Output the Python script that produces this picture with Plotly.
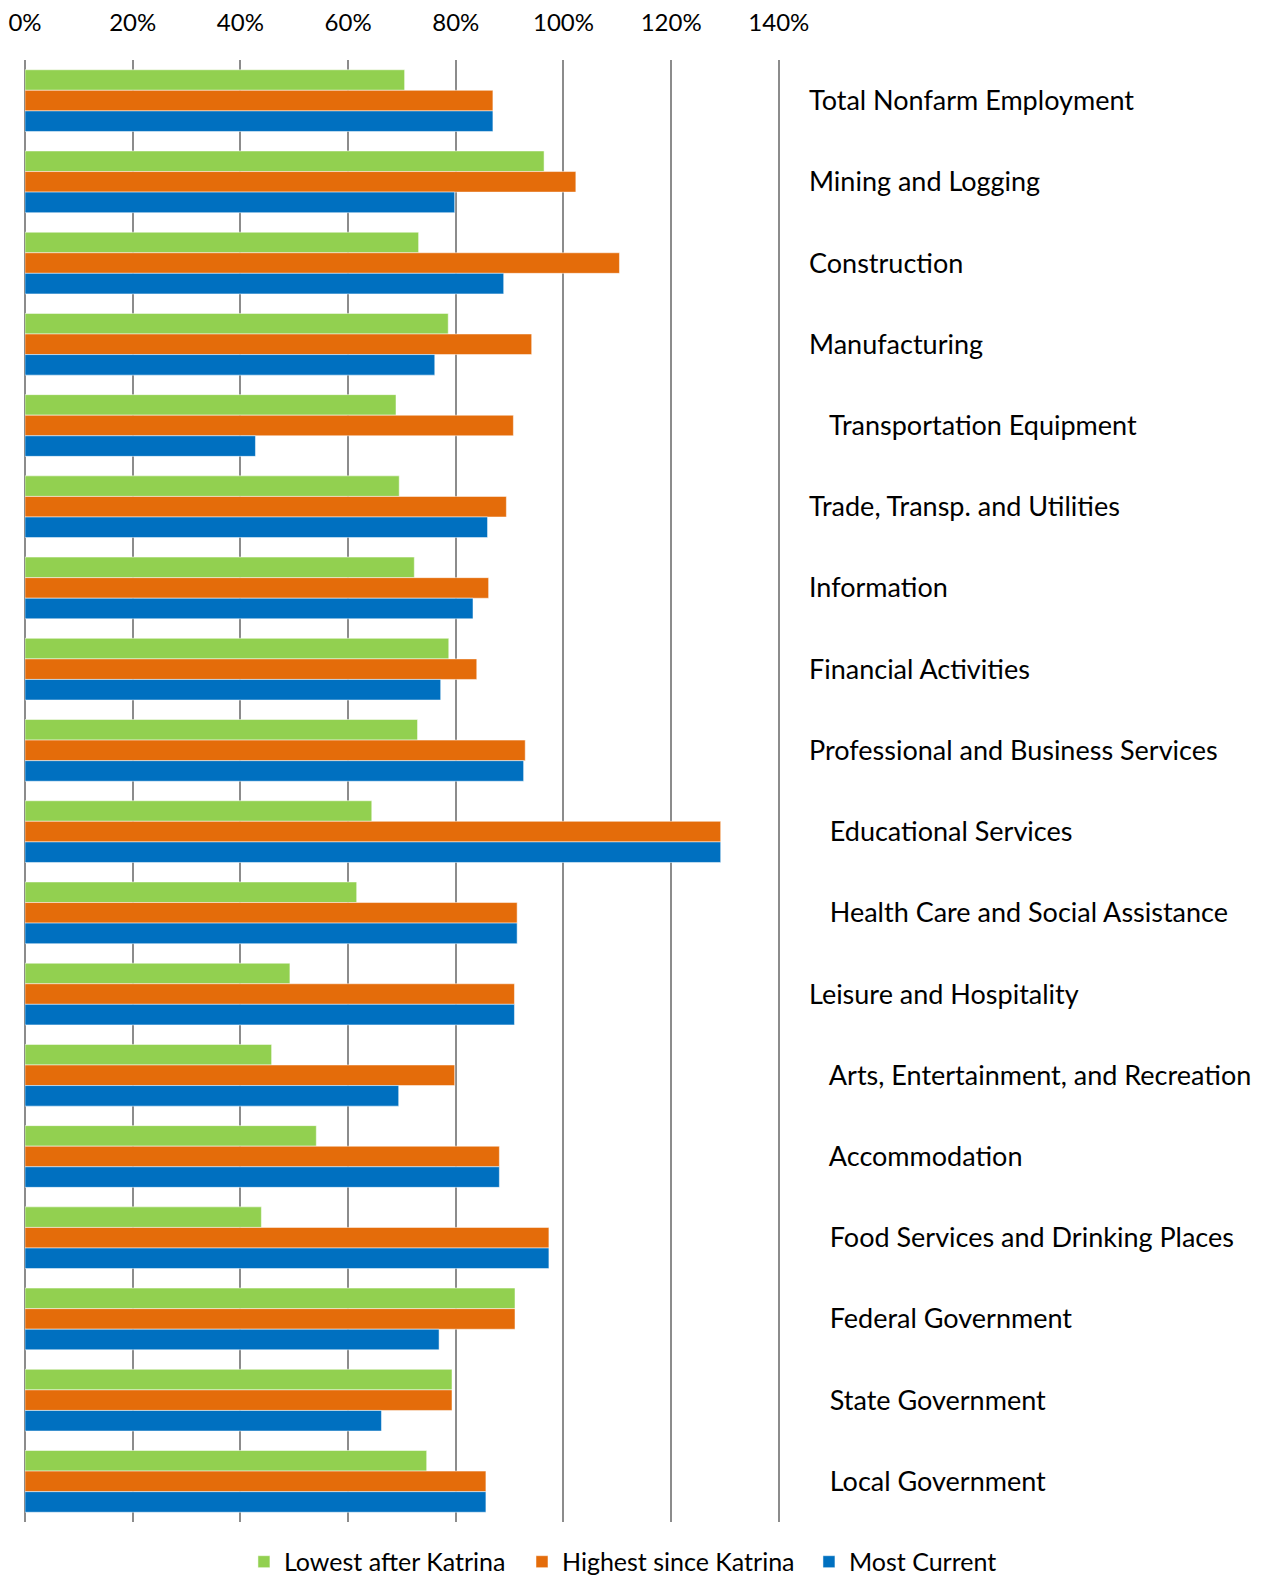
import plotly.graph_objects as go

categories = [
    "Total Nonfarm Employment", "Mining and Logging", "Construction", "Manufacturing",
    "Transportation Equipment", "Trade, Transp. and Utilities", "Information",
    "Financial Activities", "Professional and Business Services", "Educational Services",
    "Health Care and Social Assistance", "Leisure and Hospitality",
    "Arts, Entertainment, and Recreation", "Accommodation",
    "Food Services and Drinking Places", "Federal Government", "State Government",
    "Local Government",
]
indented = [
    "Transportation Equipment", "Educational Services", "Health Care and Social Assistance",
    "Arts, Entertainment, and Recreation", "Accommodation", "Food Services and Drinking Places",
    "Federal Government", "State Government", "Local Government",
]
lowest = [70.5, 96.4, 73.1, 78.6, 68.9, 69.5, 72.3, 78.7, 72.9, 64.4, 61.6, 49.2, 45.8, 54.1, 43.9, 91.0, 79.3, 74.6]
highest = [86.9, 102.3, 110.4, 94.1, 90.7, 89.4, 86.1, 83.9, 92.9, 129.2, 91.4, 90.9, 79.8, 88.1, 97.3, 91.0, 79.3, 85.6]
current = [86.9, 79.8, 88.9, 76.1, 42.8, 85.9, 83.2, 77.2, 92.6, 129.2, 91.4, 90.9, 69.4, 88.1, 97.3, 76.9, 66.2, 85.6]
x_ticks = [0, 20, 40, 60, 80, 100, 120, 140]
x_ticktext = [f"{v}%" for v in x_ticks]

series = [
    ("Lowest after Katrina", lowest, "#92D050", "legend"),
    ("Highest since Katrina", highest, "#E46C0A", "legend2"),
    ("Most Current", current, "#0070C0", "legend3"),
]
legend_x = [0.1877, 0.4089, 0.6372]

FONT = "Lato"
fig = go.Figure()
for name, vals, color, lg in series:
    fig.add_trace(go.Bar(
        y=categories, x=vals, name=name, orientation="h", legend=lg,
        marker=dict(color=color, line=dict(color="rgba(255,255,255,0.5)", width=1)),
    ))

ticktext = [("\u00a0\u00a0\u00a0" + c) if c in indented else c for c in categories]


def legend_cfg(x):
    return dict(orientation="h", xref="container", yref="container", x=x, xanchor="left",
                y=0.0096, yanchor="middle",
                font=dict(family=FONT, size=25, color="#000000"),
                itemwidth=30, bgcolor="rgba(0,0,0,0)")


fig.update_layout(
    width=1257, height=1569,
    margin=dict(l=17, r=484, t=52, b=55, autoexpand=False),
    paper_bgcolor="white", plot_bgcolor="white",
    barmode="group", bargap=0.24, bargroupgap=0,
    font=dict(family=FONT, size=27, color="#000000"),
    showlegend=True,
    legend=legend_cfg(legend_x[0]),
    legend2=legend_cfg(legend_x[1]),
    legend3=legend_cfg(legend_x[2]),
    xaxis=dict(side="top", range=[0, 140.4], tickvals=x_ticks, ticktext=x_ticktext,
               showgrid=True, gridcolor="#8C8C8C", gridwidth=1.5,
               zeroline=True, zerolinecolor="#8C8C8C", zerolinewidth=1.5,
               showline=False, ticks="", ticklabelstandoff=23, automargin=False,
               tickfont=dict(family=FONT, size=24, color="#000000")),
    yaxis=dict(side="right", autorange="reversed", type="category",
               tickvals=categories, ticktext=ticktext, ticks="", showgrid=False,
               showline=False, zeroline=False, ticklabelstandoff=27, automargin=False,
               tickfont=dict(family=FONT, size=27, color="#000000")),
)

fig.write_html("out.html")
